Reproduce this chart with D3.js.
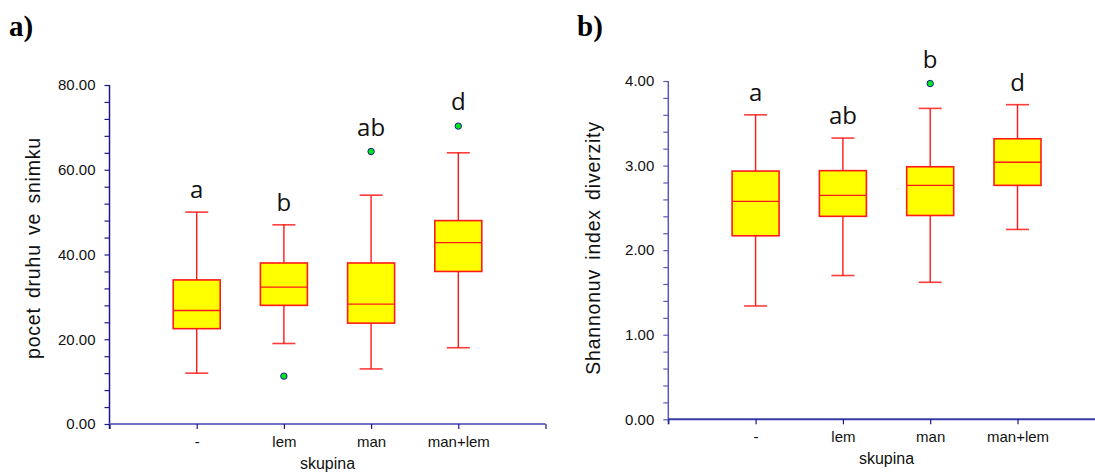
<!DOCTYPE html>
<html>
<head>
<meta charset="utf-8">
<script src="https://cdn.jsdelivr.net/npm/d3@7"></script>
<style>
  html, body { margin: 0; padding: 0; background: #fff; }
  svg { display: block; }
</style>
</head>
<body>
<svg id="chart" width="1095" height="473"></svg>
<script>
// Groups (skupina)
const groups = ["-", "lem", "man", "man+lem"];

// a) species count per plot: five-number summaries
const speciesMin    = [12, 19, 13, 18];
const speciesQ1     = [22.5, 28, 23.8, 36];
const speciesMedian = [26.8, 32.3, 28.3, 42.8];
const speciesQ3     = [34, 38, 38, 48];
const speciesMax    = [50, 47, 54, 64];
const speciesOutliers = [[], [11.3], [64.3], [70.3]];
const speciesLetters  = ["a", "b", "ab", "d"];
const speciesMajorTicks = [0, 20, 40, 60, 80];

// b) Shannon diversity index: five-number summaries
const shannonMin    = [1.34, 1.70, 1.62, 2.245];
const shannonQ1     = [2.17, 2.40, 2.41, 2.766];
const shannonMedian = [2.577, 2.648, 2.766, 3.04];
const shannonQ3     = [2.935, 2.94, 2.986, 3.317];
const shannonMax    = [3.60, 3.325, 3.676, 3.72];
const shannonOutliers = [[], [], [3.97], []];
const shannonLetters  = ["a", "ab", "b", "d"];
const shannonMajorTicks = [0, 1, 2, 3, 4];

const svg = d3.select("#chart");

function drawPanel(opt) {
  const g = svg.append("g");
  const x = d3.scaleLinear().domain([0, groups.length + 1]).range([opt.left, opt.left + opt.step * (groups.length + 1)]);
  const y = d3.scaleLinear().domain([0, opt.yMax]).range([opt.bottom, opt.top]);

  // y axis: minor ticks everywhere, labels on major ticks
  const minor = d3.range(0, opt.yMax + opt.minorStep / 2, opt.minorStep);
  const yAxis = d3.axisLeft(y)
    .tickValues(minor)
    .tickSize(5)
    .tickSizeOuter(0)
    .tickPadding(9)
    .tickFormat(v => opt.majors.some(m => Math.abs(m - v) < 1e-9) ? d3.format(".2f")(v) : "");
  const ya = g.append("g").attr("transform", `translate(${opt.left},0)`).call(yAxis);
  ya.select(".domain").attr("stroke", opt.yAxisColor).attr("stroke-width", 1.5)
    .attr("d", `M0,${opt.top}V${opt.bottom + 5}`);
  ya.selectAll(".tick line").attr("stroke", opt.yAxisColor).attr("stroke-width", 1.2);
  ya.selectAll(".tick text").attr("font-family", "'Liberation Sans', Arial, sans-serif")
    .attr("font-size", 15).attr("fill", "#111");

  // x axis: category ticks plus both end ticks
  const xa = g.append("g").attr("transform", `translate(0,${opt.bottom})`)
    .call(d3.axisBottom(x)
      .tickValues(d3.range(0, groups.length + 2))
      .tickSize(5)
      .tickSizeOuter(0)
      .tickPadding(7)
      .tickFormat(i => (i >= 1 && i <= groups.length) ? groups[i - 1] : ""));
  xa.select(".domain").attr("stroke", opt.xAxisColor).attr("stroke-width", 2)
    .attr("d", `M${x(0)},0H${x(groups.length + 1)}`);
  xa.selectAll(".tick line").attr("stroke", "#1a1a8c").attr("stroke-width", 1.2);
  xa.selectAll(".tick text").attr("font-family", "'Liberation Sans', Arial, sans-serif")
    .attr("font-size", 15).attr("fill", "#111");

  // axis titles
  g.append("text")
    .attr("x", (x(0) + x(groups.length + 1)) / 2 - opt.titleShift)
    .attr("y", opt.bottom + 45)
    .attr("text-anchor", "middle")
    .attr("font-family", "'Liberation Sans', Arial, sans-serif")
    .attr("font-size", 16).attr("fill", "#111")
    .text("skupina");
  g.append("text")
    .attr("transform", `translate(${opt.yTitleX},${opt.yTitleY}) rotate(-90)`)
    .attr("text-anchor", "middle")
    .attr("font-family", "'Liberation Sans', Arial, sans-serif")
    .attr("font-size", 19.5).attr("letter-spacing", 0.8).attr("word-spacing", 3).attr("fill", "#111")
    .text(opt.yTitle);

  // panel tag
  g.append("text")
    .attr("x", opt.tagX).attr("y", 36)
    .attr("font-family", "'Liberation Serif', 'Times New Roman', serif")
    .attr("font-weight", "bold").attr("font-size", 29).attr("fill", "#000")
    .text(opt.tag);

  const boxW = 47, capW = 23, red = "#ff1a1a";
  groups.forEach((name, i) => {
    const cx = x(i + 1);
    const bg = g.append("g");
    // whiskers
    bg.append("line").attr("x1", cx).attr("x2", cx)
      .attr("y1", y(opt.max[i])).attr("y2", y(opt.q3[i]))
      .attr("stroke", red).attr("stroke-width", 1.4);
    bg.append("line").attr("x1", cx).attr("x2", cx)
      .attr("y1", y(opt.q1[i])).attr("y2", y(opt.min[i]))
      .attr("stroke", red).attr("stroke-width", 1.4);
    [opt.max[i], opt.min[i]].forEach(v => {
      bg.append("line").attr("x1", cx - capW / 2).attr("x2", cx + capW / 2)
        .attr("y1", y(v)).attr("y2", y(v))
        .attr("stroke", red).attr("stroke-width", 1.6).attr("stroke-opacity", 0.85);
    });
    // box
    bg.append("rect")
      .attr("x", cx - boxW / 2).attr("width", boxW)
      .attr("y", y(opt.q3[i])).attr("height", y(opt.q1[i]) - y(opt.q3[i]))
      .attr("fill", "#ffff00").attr("stroke", red).attr("stroke-width", 1.6);
    // median
    bg.append("line").attr("x1", cx - boxW / 2).attr("x2", cx + boxW / 2)
      .attr("y1", y(opt.median[i])).attr("y2", y(opt.median[i]))
      .attr("stroke", red).attr("stroke-width", 1.4);
    // outliers
    opt.outliers[i].forEach(v => {
      bg.append("circle").attr("cx", cx).attr("cy", y(v)).attr("r", 3.2)
        .attr("fill", "#00e61e").attr("stroke", "#1a1a8c").attr("stroke-width", 1);
    });
    // significance letter above the highest mark
    const top = Math.min(y(opt.max[i]), ...opt.outliers[i].map(v => y(v) - 2));
    bg.append("text")
      .attr("x", cx).attr("y", top - 14)
      .attr("text-anchor", "middle")
      .attr("font-family", "'Open Sans', sans-serif")
      .attr("font-size", 24).attr("fill", "#111")
      .text(opt.letters[i]);
  });
}

drawPanel({
  left: 109.5, step: 87.2, top: 85, bottom: 424, yMax: 80, minorStep: 4,
  majors: speciesMajorTicks,
  min: speciesMin, q1: speciesQ1, median: speciesMedian, q3: speciesQ3, max: speciesMax,
  outliers: speciesOutliers, letters: speciesLetters,
  yAxisColor: "#1a1a8c", xAxisColor: "#7070c4",
  yTitle: "pocet druhu ve snimku", yTitleX: 40, yTitleY: 248,
  titleShift: 0, tag: "a)", tagX: 9
});

drawPanel({
  left: 668.3, step: 87.3, top: 81, bottom: 419.3, yMax: 4, minorStep: 0.2,
  majors: shannonMajorTicks,
  min: shannonMin, q1: shannonQ1, median: shannonMedian, q3: shannonQ3, max: shannonMax,
  outliers: shannonOutliers, letters: shannonLetters,
  yAxisColor: "#5a5ab8", xAxisColor: "#3a3aa8",
  yTitle: "Shannonuv index diverzity", yTitleX: 600, yTitleY: 248,
  titleShift: 0, tag: "b)", tagX: 577
});
</script>
</body>
</html>
